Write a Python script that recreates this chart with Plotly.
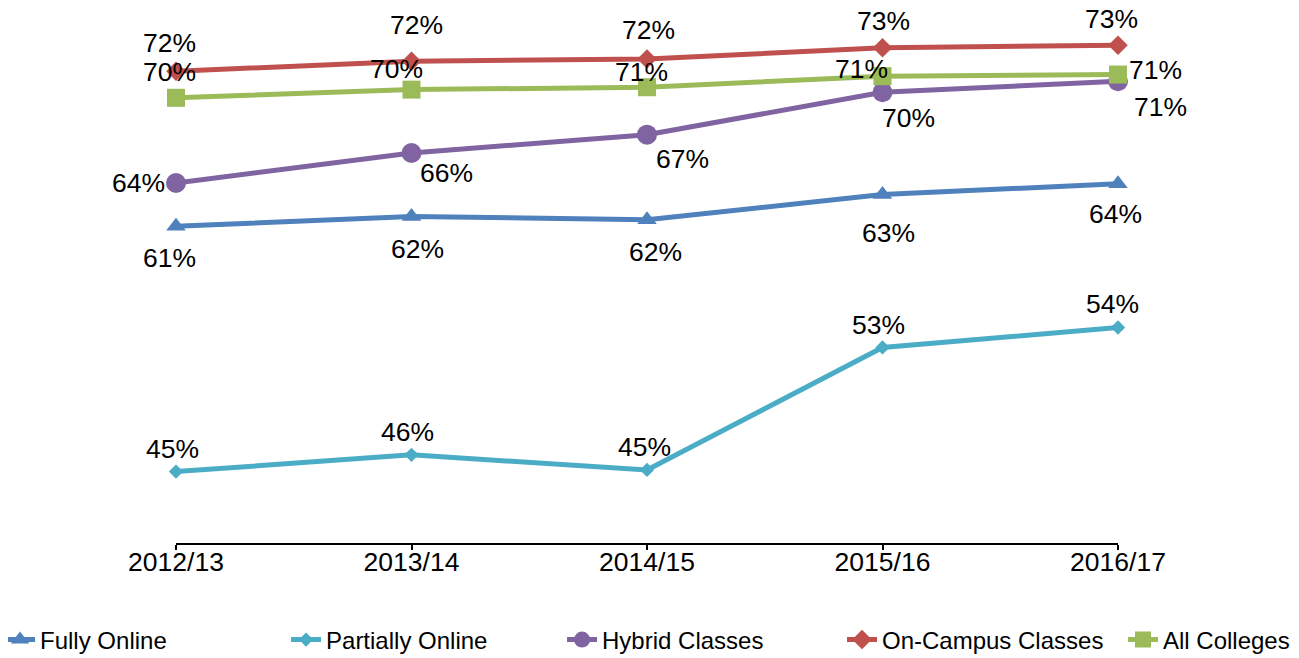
import plotly.graph_objects as go

categories = ["2012/13", "2013/14", "2014/15", "2015/16", "2016/17"]

fully_online = [61.23, 61.90, 61.68, 63.36, 64.09]
partially_online = [44.79, 45.91, 44.90, 53.11, 54.45]
hybrid_classes = [64.14, 66.15, 67.38, 70.22, 70.96]
on_campus_classes = [71.63, 72.30, 72.45, 73.20, 73.38]
all_colleges = [69.85, 70.40, 70.56, 71.30, 71.41]

series = [
    ("Fully Online", fully_online, "#4F81BD", "triangle-up", 17),
    ("Partially Online", partially_online, "#4BACC6", "diamond", 11),
    ("Hybrid Classes", hybrid_classes, "#8064A2", "circle", 20),
    ("On-Campus Classes", on_campus_classes, "#C0504D", "diamond", 15),
    ("All Colleges", all_colleges, "#9BBB59", "square", 18),
]

# label offsets in screen pixels (dx right, dy down) per series / point
label_offsets = {
    "Fully Online": [(-7, 32), (6, 33), (8, 32), (6, 38), (-3, 30)],
    "Partially Online": [(-4, -23), (-4, -23), (-3, -23), (-4, -22), (-6, -23)],
    "Hybrid Classes": [(-38, 0), (35, 20), (35, 24), (26, 26), (42, 26)],
    "On-Campus Classes": [(-7, -28), (5, -36), (1, -29), (1, -27), (-7, -26)],
    "All Colleges": [(-7, -26), (-15, -21), (-6, -15), (-21, -7), (37, -5)],
}

# legend entry left positions (fraction of plot width)
legend_x = [-0.1868, 0.1168, 0.4098, 0.7070, 1.0053]

FONT = "Liberation Sans, Arial, sans-serif"

fig = go.Figure()
annotations = []
layout_legends = {}
for k, (name, vals, color, symbol, msize) in enumerate(series):
    lid = "legend" if k == 0 else f"legend{k+1}"
    fig.add_trace(go.Scatter(
        x=categories, y=vals, name=name, mode="lines+markers",
        line=dict(color=color, width=5),
        marker=dict(symbol=symbol, size=msize, color=color),
        cliponaxis=False, legend=lid,
    ))
    layout_legends[lid] = dict(
        xref="paper", yref="paper",
        x=legend_x[k], xanchor="left", y=-0.1858, yanchor="middle",
        font=dict(size=24, color="black", family=FONT),
        bgcolor="rgba(0,0,0,0)", itemwidth=30,
    )
    for i, (c, v) in enumerate(zip(categories, vals)):
        dx, dy = label_offsets[name][i]
        annotations.append(dict(
            x=c, y=v, xref="x", yref="y", text=f"{round(v)}%",
            showarrow=False, xshift=dx, yshift=-dy,
            font=dict(family=FONT, size=26.5, color="black"),
        ))

fig.update_layout(
    width=1291, height=650,
    margin=dict(l=168, r=181, t=13, b=115, autoexpand=False),
    paper_bgcolor="white", plot_bgcolor="white",
    font=dict(family=FONT, color="black"),
    annotations=annotations,
    showlegend=True,
    xaxis=dict(
        type="category", range=[0, 4], showline=True, linecolor="black", linewidth=1.5,
        ticks="outside", ticklen=5, tickcolor="black", tickwidth=1.5,
        tickfont=dict(size=26.5, color="black"), showgrid=False, zeroline=False,
        automargin=False, ticklabelstandoff=-11,
    ),
    yaxis=dict(range=[40, 75], visible=False, showgrid=False, automargin=False),
    **layout_legends,
)

fig.write_html("out.html")
